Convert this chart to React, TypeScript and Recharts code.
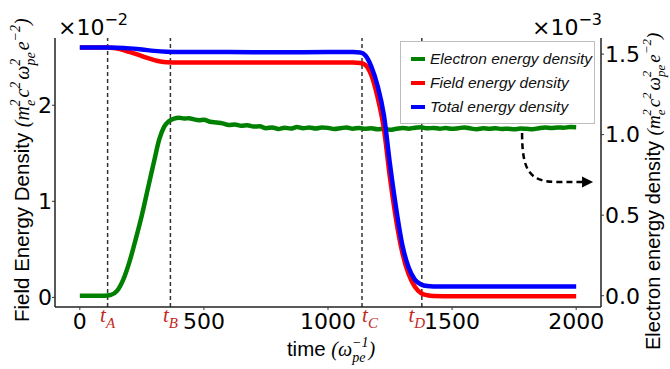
import React from "react";
import { LineChart, Line, XAxis, YAxis, ReferenceLine, Legend } from "recharts";

// time in 1/ω_pe ; field/total in units of 1e-2, electron in units of 1e-3
const electronTime = [
  0, 50, 100, 125, 150, 175, 200, 225, 250, 275, 300, 320, 340, 360, 380, 400, 420, 440, 460, 480,
  500, 525, 550, 575, 600, 625, 650, 675, 700, 725, 750, 775, 800, 825, 850, 875, 900, 925, 950, 975,
  1000, 1025, 1050, 1075, 1100, 1125, 1150, 1175, 1200, 1225, 1250, 1275, 1300, 1325, 1350, 1375,
  1400, 1425, 1450, 1475, 1500, 1525, 1550, 1575, 1600, 1625, 1650, 1675, 1700, 1725, 1750, 1775,
  1800, 1825, 1850, 1875, 1900, 1925, 1950, 1975, 2000,
];
const electronEnergy = [
  0, 0, 0, 0.005, 0.03, 0.1, 0.21, 0.35, 0.5, 0.67, 0.84, 0.97, 1.05, 1.085, 1.1, 1.105, 1.1, 1.102, 1.095, 1.09,
  1.092, 1.08, 1.075, 1.07, 1.06, 1.063, 1.055, 1.058, 1.05, 1.052, 1.04, 1.045, 1.035, 1.043, 1.038, 1.047, 1.04, 1.044, 1.038, 1.045,
  1.042, 1.035, 1.04, 1.045, 1.037, 1.042, 1.036, 1.04, 1.033, 1.038, 1.03, 1.036, 1.042, 1.037, 1.043, 1.046,
  1.039, 1.042, 1.037, 1.041, 1.036, 1.04, 1.045, 1.038, 1.034, 1.039, 1.036, 1.04, 1.035, 1.037, 1.033, 1.038,
  1.036, 1.034, 1.04, 1.044, 1.041, 1.045, 1.043, 1.047, 1.046,
];

const fieldTime = [
  0, 100, 125, 150, 175, 200, 225, 250, 275, 300, 325, 350, 400, 600, 800, 1000, 1100, 1130, 1150, 1175,
  1200, 1225, 1250, 1275, 1300, 1325, 1350, 1375, 1400, 1425, 1500, 1750, 2000,
];
const fieldEnergy = [
  2.6, 2.6, 2.598, 2.59, 2.575, 2.555, 2.535, 2.512, 2.49, 2.47, 2.455, 2.448, 2.445, 2.446, 2.445, 2.446, 2.445, 2.44, 2.42, 2.31,
  2.08, 1.76, 1.24, 0.8, 0.46, 0.24, 0.11, 0.045, 0.022, 0.015, 0.013, 0.013, 0.013,
];

const totalTime = [
  0, 100, 150, 200, 250, 300, 350, 400, 600, 800, 1000, 1100, 1130, 1150, 1175, 1200, 1225, 1250, 1275,
  1300, 1325, 1350, 1375, 1400, 1425, 1500, 1750, 2000,
];
const totalEnergy = [
  2.6, 2.6, 2.598, 2.592, 2.58, 2.566, 2.557, 2.553, 2.553, 2.552, 2.553, 2.553, 2.55, 2.52, 2.4, 2.2, 1.9, 1.38, 0.92,
  0.54, 0.31, 0.185, 0.135, 0.118, 0.114, 0.113, 0.113, 0.113,
];

const timeTicks = [0, 500, 1000, 1500, 2000];
const fieldTicks = [0, 1, 2];
const electronTicks = [0, 0.5, 1.0, 1.5];

const phaseNames = ["A", "B", "C", "D"];
const phaseTimes = [112, 365, 1137, 1378];
// nudges for the t_X captions under the axis
const phaseShift: Record<string, number> = { A: 0, B: 0, C: 8, D: -5 };

// dashed pointer from the green curve to the right-hand axis
const pointerFrom = { x: 1782, y: 1.01 };
const pointerTo = { x: 2068, y: 0.706 };

const zip = (ts: number[], vs: number[]) => ts.map((t, i) => ({ t, v: vs[i] }));
const electronData = zip(electronTime, electronEnergy);
const fieldData = zip(fieldTime, fieldEnergy);
const totalData = zip(totalTime, totalEnergy);

const W = 670;
const H = 369;
const SANS = "Liberation Sans, Arial, sans-serif";
const SERIF = "Liberation Serif, Times New Roman, serif";
const TICK_FONT = "DejaVu Sans, sans-serif";
const PHASE_RED = "#c3271b";

type Piece = { b: string; sub?: string; sup?: string };
const unitPieces: Piece[] = [
  { b: "(" },
  { b: "m", sub: "e", sup: "2" },
  { b: "c", sup: "2" },
  { b: "ω", sub: "pe", sup: "2" },
  { b: "e", sup: "−2" },
  { b: ")" },
];
const timeUnitPieces: Piece[] = [{ b: "(" }, { b: "ω", sub: "pe", sup: "−1" }, { b: ")" }];

// mathtext-like run of tspans with stacked sub/superscripts
function mathSpans(pieces: Piece[], base: number, keyPrefix: string) {
  const small = Math.round(base * 0.7);
  const out: React.ReactNode[] = [];
  let off = 0;
  let carry = 0;
  pieces.forEach((p, i) => {
    const gap = p.b === "(" || p.b === ")" || i === 1 ? 0 : 2;
    out.push(
      <tspan key={`${keyPrefix}${i}b`} dy={-off} dx={carry + gap} fontSize={base}>
        {p.b}
      </tspan>
    );
    off = 0;
    carry = 0;
    if (p.sub) {
      const n = base * 0.28;
      out.push(
        <tspan key={`${keyPrefix}${i}s`} dy={n - off} fontSize={small}>
          {p.sub}
        </tspan>
      );
      off = n;
    }
    if (p.sup) {
      const n = -base * 0.45;
      const subW = p.sub ? p.sub.length * small * 0.48 : 0;
      const supW = p.sup.length * small * 0.5;
      out.push(
        <tspan key={`${keyPrefix}${i}p`} dx={-subW} dy={n - off} fontSize={small}>
          {p.sup}
        </tspan>
      );
      off = n;
      carry = Math.max(0, subW - supW);
    }
  });
  if (off !== 0) out.push(<tspan key={`${keyPrefix}end`} dy={-off}>{""}</tspan>);
  return out;
}

const PhaseLine = (props: any) => {
  const { x1, y1, x2, y2, name } = props;
  const bottom = Math.max(y1, y2);
  return (
    <g>
      <line x1={x1} y1={y1} x2={x2} y2={y2} stroke="#333" strokeWidth={1.5} strokeDasharray="4 3" />
      <text
        x={x1 + (phaseShift[name] || 0)}
        y={bottom + 15}
        textAnchor="middle"
        fill={PHASE_RED}
        fontFamily={SERIF}
        fontStyle="italic"
        fontSize={21}
      >
        t
        <tspan fontSize={15} dy={6}>
          {name}
        </tspan>
      </text>
    </g>
  );
};

const Pointer = (props: any) => {
  const { x1, y1, x2, y2 } = props;
  const d = `M${x1},${y1} C${x1},${y2 - 10} ${x1 + 8},${y2} ${x1 + 36},${y2} L${x2 - 9},${y2}`;
  return (
    <g>
      <path d={d} fill="none" stroke="#000" strokeWidth={2.5} strokeDasharray="6 4" />
      <path d={`M${x2 - 11},${y2 - 5.5} L${x2},${y2} L${x2 - 11},${y2 + 5.5} Z`} fill="#000" />
    </g>
  );
};

const renderLegend = (props: any) => {
  const items = (props.payload || []) as any[];
  return (
    <div
      style={{
        border: "1px solid #bdbdbd",
        background: "#fff",
        height: 83,
        boxSizing: "border-box",
        paddingTop: 5,
      }}
    >
      {items.map((it) => (
        <div key={it.value} style={{ display: "flex", alignItems: "center", height: 24 }}>
          <div style={{ width: 14, height: 4.5, background: it.color, marginLeft: 10, marginRight: 5 }} />
          <span style={{ fontFamily: SANS, fontStyle: "italic", fontSize: 15.5, color: "#111", whiteSpace: "nowrap" }}>
            {it.value}
          </span>
        </div>
      ))}
    </div>
  );
};

export default function App() {
  const tickStyle = { fill: "#000", fontSize: 22, fontFamily: TICK_FONT };
  const axisStroke = { stroke: "#222", strokeWidth: 1.5 };
  return (
    <div style={{ position: "absolute", left: 0, top: 0, width: W, height: H, background: "#fff" }}>
      <LineChart width={W} height={H} margin={{ top: 38, right: 0, bottom: 0, left: 0 }}>
        <XAxis
          dataKey="t"
          type="number"
          domain={[-100, 2100]}
          ticks={timeTicks}
          allowDataOverflow
          height={62}
          tick={tickStyle}
          tickSize={3}
          tickMargin={3}
          axisLine={axisStroke}
          tickLine={{ stroke: "#333" }}
        />
        <XAxis
          xAxisId="top"
          orientation="top"
          type="number"
          domain={[0, 1]}
          height={0}
          tick={false}
          tickLine={false}
          axisLine={axisStroke}
        />
        <YAxis
          yAxisId="left"
          type="number"
          domain={[-0.1, 2.7]}
          ticks={fieldTicks}
          allowDataOverflow
          width={55}
          tick={tickStyle}
          tickSize={3}
          tickMargin={0}
          axisLine={axisStroke}
          tickLine={{ stroke: "#333" }}
        />
        <YAxis
          yAxisId="right"
          orientation="right"
          type="number"
          domain={[-0.07, 1.6]}
          ticks={electronTicks}
          tickFormatter={(v: number) => v.toFixed(1)}
          allowDataOverflow
          width={69}
          tick={tickStyle}
          tickSize={3}
          tickMargin={1}
          axisLine={axisStroke}
          tickLine={{ stroke: "#333" }}
        />
        {phaseTimes.map((t, i) => (
          <ReferenceLine
            key={phaseNames[i]}
            x={t}
            yAxisId="left"
            shape={(p: any) => <PhaseLine {...p} name={phaseNames[i]} />}
          />
        ))}
        <Line
          data={electronData}
          dataKey="v"
          yAxisId="right"
          name="Electron energy density"
          type="monotone"
          stroke="#008000"
          strokeWidth={4.5}
          dot={false}
          activeDot={false}
          isAnimationActive={false}
        />
        <Line
          data={fieldData}
          dataKey="v"
          yAxisId="left"
          name="Field energy density"
          type="monotone"
          stroke="#ff0000"
          strokeWidth={4.5}
          dot={false}
          activeDot={false}
          isAnimationActive={false}
        />
        <Line
          data={totalData}
          dataKey="v"
          yAxisId="left"
          name="Total energy density"
          type="monotone"
          stroke="#0000ff"
          strokeWidth={4.5}
          dot={false}
          activeDot={false}
          isAnimationActive={false}
        />
        <ReferenceLine
          yAxisId="right"
          segment={[pointerFrom, pointerTo]}
          shape={(p: any) => <Pointer {...p} />}
        />
        <Legend
          layout="vertical"
          align="center"
          verticalAlign="middle"
          width={195}
          wrapperStyle={{ left: 400, top: 41, width: 195 }}
          content={renderLegend}
        />
      </LineChart>

      <svg
        width={W}
        height={H}
        style={{ position: "absolute", left: 0, top: 0, pointerEvents: "none", overflow: "hidden" }}
      >
        <text x={58} y={35} fontFamily={TICK_FONT} fontSize={22} fill="#000">
          ×10
          <tspan dy={-10} fontSize={16}>
            −2
          </tspan>
        </text>
        <text x={602} y={35} textAnchor="end" fontFamily={TICK_FONT} fontSize={22} fill="#000">
          ×10
          <tspan dy={-10} fontSize={16}>
            −3
          </tspan>
        </text>

        <text
          x={29}
          y={322}
          transform="rotate(-90 29 322)"
          fontFamily={SANS}
          fontSize={20.5}
          fill="#000"
        >
          Field Energy Density{" "}
          <tspan fontFamily={SERIF} fontStyle="italic">
            {mathSpans(unitPieces, 20, "l")}
          </tspan>
        </text>

        <text
          x={660}
          y={350}
          transform="rotate(-90 660 350)"
          fontFamily={SANS}
          fontSize={20}
          fill="#000"
        >
          Electron energy density{" "}
          <tspan fontFamily={SERIF} fontStyle="italic">
            {mathSpans(unitPieces, 19, "r")}
          </tspan>
        </text>

        <text x={331} y={356} textAnchor="middle" fontFamily={SANS} fontSize={20.5} fill="#000">
          time{" "}
          <tspan fontFamily={SERIF} fontStyle="italic">
            {mathSpans(timeUnitPieces, 20, "x")}
          </tspan>
        </text>
      </svg>
    </div>
  );
}
